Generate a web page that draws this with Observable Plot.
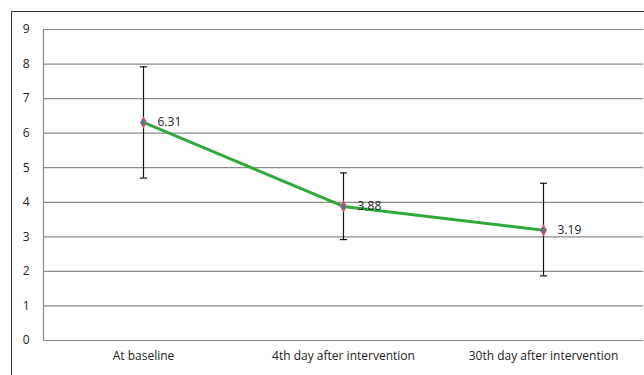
<!DOCTYPE html>
<html>
<head>
<meta charset="utf-8">
<script src="https://cdn.jsdelivr.net/npm/d3@7"></script>
<script src="https://cdn.jsdelivr.net/npm/@observablehq/plot@0.6"></script>
<style>
  html, body { margin: 0; padding: 0; background: #fff; }
  #wrap { position: relative; width: 644px; height: 375px; overflow: hidden; }
  #border { position: absolute; left: 11px; top: 11px; width: 640px; height: 400px;
            border-left: 1px solid #333; border-top: 1px solid #333; pointer-events: none; }
</style>
</head>
<body>
<div id="wrap"><div id="chart"></div><div id="border"></div></div>
<script>
const categories = ["At baseline", "4th day after intervention", "30th day after intervention"];
const means = [6.31, 3.88, 3.19];
const upper = [7.92, 4.85, 4.55];
const lower = [4.70, 2.92, 1.87];
const yTicks = [0, 1, 2, 3, 4, 5, 6, 7, 8, 9];

const data = categories.map((c, i) => ({cat: c, mean: means[i], hi: upper[i], lo: lower[i]}));

const cap = { draw(ctx) { ctx.moveTo(-3.5, 0); ctx.lineTo(3.5, 0); } };

const chart = Plot.plot({
  width: 644,
  height: 375,
  marginLeft: 43,
  marginRight: 1,
  marginTop: 29,
  marginBottom: 35,
  style: { fontFamily: "'Open Sans', 'Liberation Sans', sans-serif", fontSize: "12px", color: "#222", background: "#fff" },
  x: { type: "point", domain: categories, padding: 0.5, label: null },
  y: { domain: [0, 9], ticks: yTicks, label: null },
  marks: [
    Plot.ruleY(yTicks, { stroke: "#8a8a8a", strokeWidth: 1.2 }),
    Plot.ruleX([categories[0]], { dx: -100, y1: 0, y2: 9, stroke: "#8a8a8a", strokeWidth: 1.2 }),
    Plot.axisY({ ticks: yTicks, tickSize: 0, tickPadding: 14, fontSize: 12, fill: "#222" }),
    Plot.axisX({ tickSize: 0, tickPadding: 11, fontSize: 12, fill: "#222" }),
    Plot.ruleX(data, { x: "cat", y1: "lo", y2: "hi", stroke: "#111", strokeWidth: 1.2 }),
    Plot.dot(data, { x: "cat", y: "hi", symbol: cap, r: 4, stroke: "#111", strokeWidth: 1.2 }),
    Plot.dot(data, { x: "cat", y: "lo", symbol: cap, r: 4, stroke: "#111", strokeWidth: 1.2 }),
    Plot.line(data, { x: "cat", y: "mean", stroke: "#2eaa3a", strokeWidth: 3 }),
    Plot.dot(data, { x: "cat", y: "mean", symbol: "diamond", r: 3, fill: "#3a7fa6", stroke: "#e0505a", strokeWidth: 1.2 }),
    Plot.text(data, { x: "cat", y: "mean", text: d => d.mean.toFixed(2), dx: 14, textAnchor: "start", fontSize: 12, fill: "#222" })
  ]
});
document.getElementById("chart").appendChild(chart);
</script>
</body>
</html>
